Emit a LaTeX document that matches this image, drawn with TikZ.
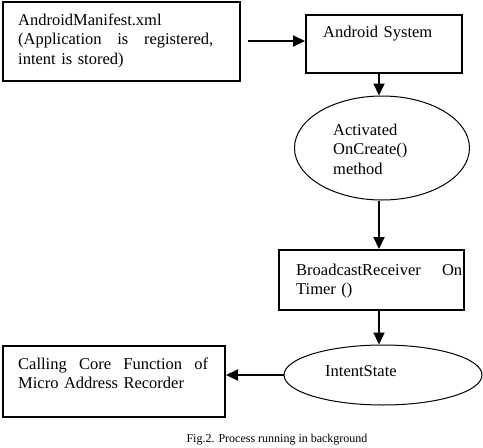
\documentclass[tikz,border=0pt]{standalone}
\usepackage{fontspec}
\setmainfont{Liberation Serif}
\usetikzlibrary{shapes.geometric,arrows.meta}
\newcommand{\jline}[2]{\leavevmode\hbox to #1{#2}}
\tikzset{
  boxshape/.style={draw, line width=2pt, rectangle, inner sep=0pt},
  ellshape/.style={draw, line width=1pt, ellipse, inner sep=0pt},
  txt/.style={font=\fontsize{16.5}{19.5}\selectfont, inner sep=0pt, anchor=base west, align=left},
  arr/.style={line width=2pt, -{Triangle[length=12pt,width=11pt]}},
  captxt/.style={font=\fontsize{12}{14}\selectfont, inner sep=0pt, anchor=base}
}
\begin{document}
\begin{tikzpicture}[x=1pt,y=-1pt]
\useasboundingbox (0,0) rectangle (483,448);
% shapes
\node[boxshape, minimum width=237pt, minimum height=79pt] (box1) at (121.5,41.5) {};
\node[boxshape, minimum width=156pt, minimum height=58pt] (box2) at (384,44) {};
\node[ellshape, minimum width=175pt, minimum height=104pt] (ell1) at (382,148) {};
\node[boxshape, minimum width=185pt, minimum height=60pt] (box3) at (371.5,280) {};
\node[ellshape, minimum width=198pt, minimum height=60pt] (ell2) at (383,375) {};
\node[boxshape, minimum width=222pt, minimum height=71pt] (box4) at (114,381.5) {};
% texts
\node[txt, text width=200pt] (t1) at (18,25) {AndroidManifest.xml\\\jline{195pt}{(Application\hfill is\hfill registered,}\\intent is stored)};
\node[txt, text width=130pt] (t2) at (323,37) {Android System};
\node[txt, text width=120pt] (t3) at (333,135) {Activated\\OnCreate()\\method};
\node[txt, text width=170pt] (t4) at (296,275) {\jline{166pt}{BroadcastReceiver\hfill On}\\Timer ()};
\node[txt, text width=120pt] (t5) at (325,376) {IntentState};
\node[txt, text width=195pt] (t6) at (18,369) {\jline{190pt}{Calling\hfill Core\hfill Function\hfill of}\\Micro Address Recorder};
\node[captxt] (cap) at (277,442) {Fig.2. Process running in background};
% connectors
\coordinate (a1s) at (248,41);
\coordinate (xv) at (379,0);
\draw[arr] (a1s) -- (a1s -| box2.west);
\draw[arr] (box2.south -| xv) -- (ell1.north -| xv);
\draw[arr] (ell1.south -| xv) -- (box3.north -| xv);
\draw[arr] (box3.south -| xv) -- (ell2.north -| xv);
\draw[arr] (ell2.west) -- (box4.east |- ell2.west);
\end{tikzpicture}
\end{document}
